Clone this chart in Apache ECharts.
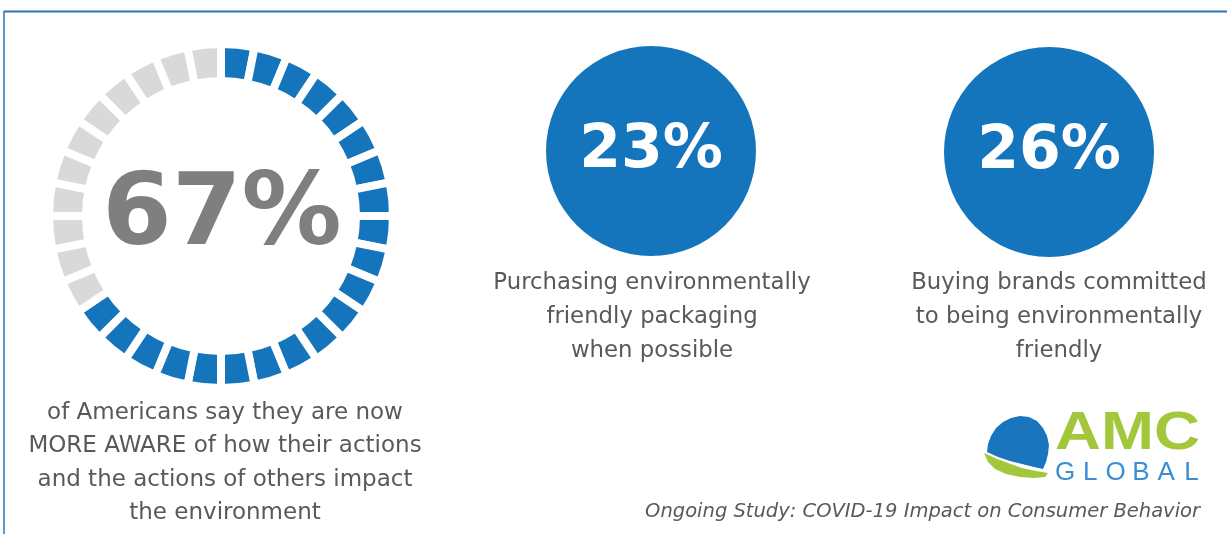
<!DOCTYPE html>
<html>
<head>
<meta charset="utf-8">
<script src="https://cdn.jsdelivr.net/npm/echarts@6/dist/echarts.min.js"></script>
<style>
html,body{margin:0;padding:0;background:#fff;}
#chart{width:1227px;height:534px;}
</style>
</head>
<body>
<div id="chart"></div>
<script>
// ---- data ----
const ringPercent = 67;
const ringSegments = 32;
const ringCaption = ['of Americans say they are now', 'MORE AWARE of how their actions', 'and the actions of others impact', 'the environment'];
const statValues = [23, 26];
const statCaptions = [
  ['Purchasing environmentally', 'friendly packaging', 'when possible'],
  ['Buying brands committed', 'to being environmentally', 'friendly']
];
const footnote = 'Ongoing Study: COVID-19 Impact on Consumer Behavior';
const logoWord = 'AMC';
const logoSub = 'GLOBAL';

// ---- styles ----
const BLUE = '#1575bc';
const GREY = '#d9d9d9';
const TEXT = '#595959';
const GREEN = '#a2c73b';
const FONT = "'DejaVu Sans', Verdana, sans-serif";

const chart = echarts.init(document.getElementById('chart'), null, {renderer: 'canvas'});

const filled = Math.round(ringPercent / 100 * ringSegments);
const ringData = [];
for (let i = 0; i < ringSegments; i++) {
  ringData.push({value: 1, itemStyle: {color: i < filled ? BLUE : GREY}});
}

const statCenters = [[651, 151], [1049, 152]];
const captionCenters = [652, 1059];

const series = [{
  type: 'pie',
  silent: true,
  center: [221, 216],
  radius: [135, 172],
  startAngle: 90,
  clockwise: true,
  animation: false,
  label: {show: false},
  labelLine: {show: false},
  itemStyle: {borderColor: '#fff', borderWidth: 8},
  data: ringData
}];
statValues.forEach((v, i) => {
  series.push({
    type: 'pie',
    silent: true,
    animation: false,
    center: statCenters[i],
    radius: [0, 105],
    labelLine: {show: false},
    label: {
      show: true, position: 'center', formatter: '{c}%',
      color: '#fff', fontFamily: FONT, fontWeight: 'bold', fontSize: 60
    },
    itemStyle: {color: BLUE},
    data: [{value: v}]
  });
});

const graphics = [
  {type: 'line', shape: {x1: 4, y1: 11.5, x2: 1227, y2: 11.5}, style: {stroke: '#2e75b6', lineWidth: 2}},
  {type: 'line', shape: {x1: 4, y1: 11, x2: 4, y2: 534}, style: {stroke: '#2e75b6', lineWidth: 1.5}},
  {type: 'text', x: 222, y: 218, style: {text: ringPercent + '%', fill: '#7f7f7f', font: "bold 100px " + FONT, align: 'center', verticalAlign: 'middle'}},
  {type: 'text', x: 225, y: 396, style: {text: ringCaption.join('\n'), fill: TEXT, font: "23px " + FONT, align: 'center', verticalAlign: 'top', lineHeight: 33.5}},
  {type: 'text', x: 1200, y: 512, style: {text: footnote, fill: TEXT, font: "italic 19.5px " + FONT, align: 'right', verticalAlign: 'middle'}},
  // logo
  {type: 'polygon', shape: {points: [[987,452],[988,444],[991,436],[996,428],[1003,422],[1011,418],[1020,416],[1029,417],[1037,421],[1043,428],[1047,436],[1049,445],[1048,454],[1046,462],[1043,469],[1034,467],[1022,464],[1010,461],[998,457]]}, style: {fill: '#1a75bf'}},
  {type: 'polygon', shape: {points: [[984,453],[995,458],[1008,463],[1022,468],[1036,471],[1048,473],[1045,477],[1034,478],[1020,477],[1006,474],[995,469],[988,462]]}, style: {fill: GREEN}},
  {type: 'text', x: 1055, y: 434, scaleX: 1.2, originX: 0, originY: 0, style: {text: logoWord, fill: GREEN, font: "bold 53px 'Liberation Sans', Arial, sans-serif", align: 'left', verticalAlign: 'middle'}}
];
statCaptions.forEach((lines, i) => {
  graphics.push({type: 'text', x: captionCenters[i], y: 266, style: {text: lines.join('\n'), fill: TEXT, font: "22.8px " + FONT, align: 'center', verticalAlign: 'top', lineHeight: 34}});
});
logoSub.split('').forEach((ch, i) => {
  graphics.push({type: 'text', x: 1065 + i * 25.3, y: 473, style: {text: ch, fill: '#3b8ed4', font: "26px 'Liberation Sans', Arial, sans-serif", align: 'center', verticalAlign: 'middle'}});
});

chart.setOption({
  animation: false,
  series: series,
  graphic: graphics
});
</script>
</body>
</html>
